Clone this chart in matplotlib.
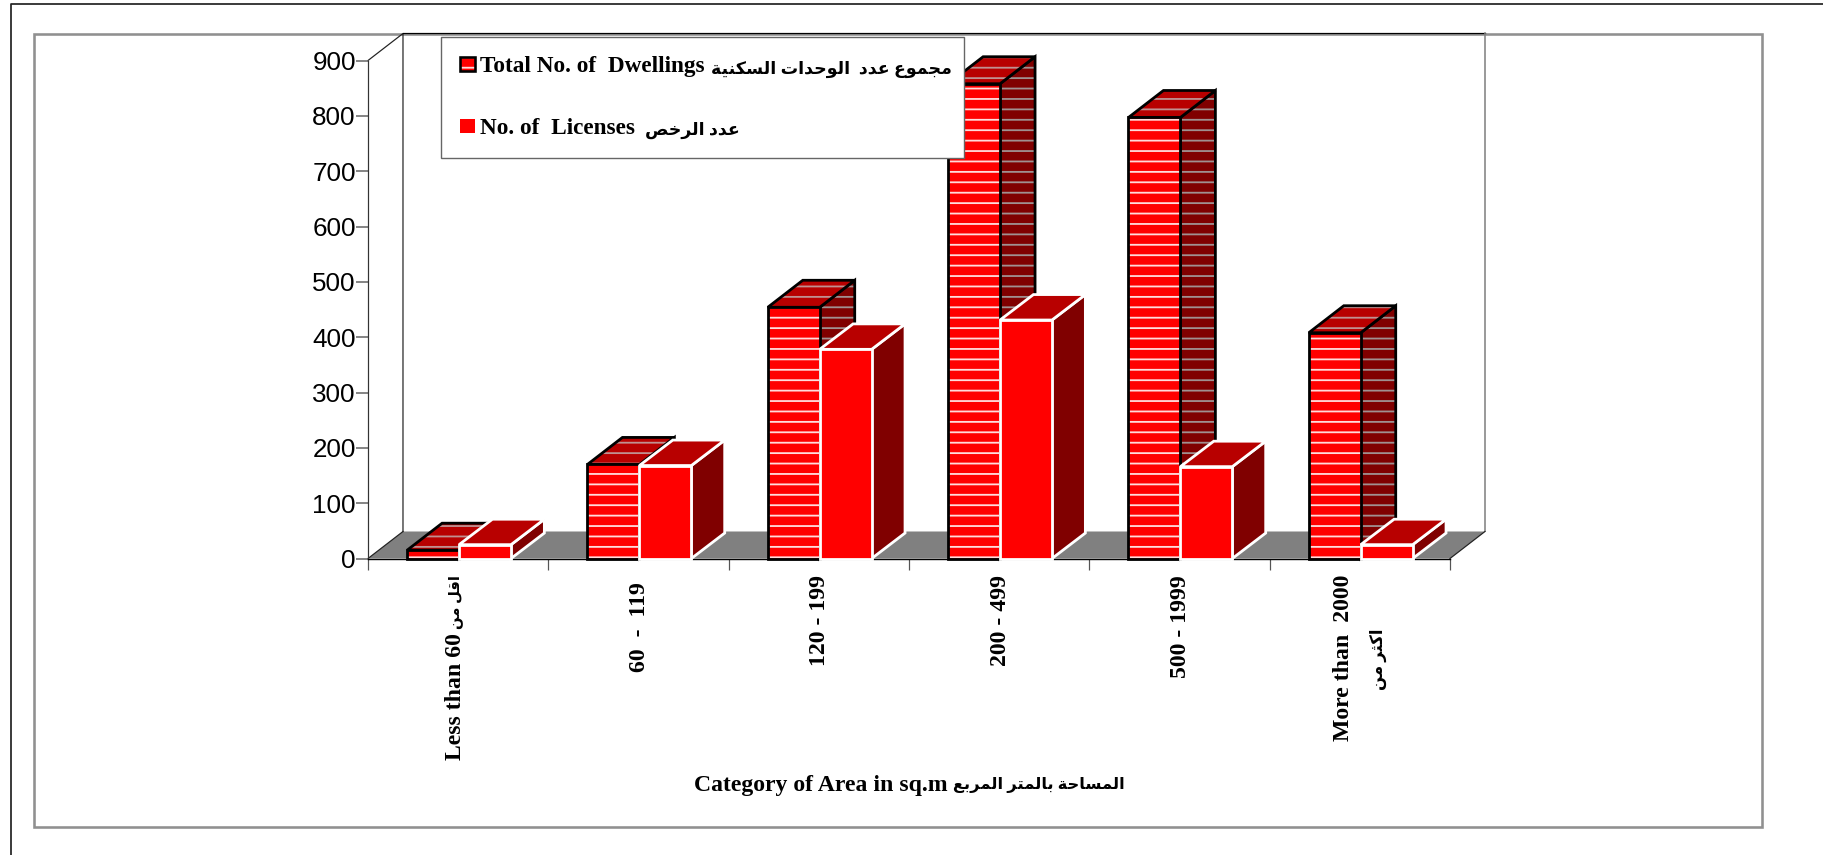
import matplotlib
matplotlib.use('Agg')
import matplotlib.pyplot as plt
from matplotlib.legend_handler import HandlerTuple
from matplotlib.patches import Patch, Polygon, Rectangle

W, H = 1823, 855
DPI = 125
plt.rcParams['hatch.linewidth'] = 1.05
SERIF = ['Liberation Serif', 'DejaVu Sans']
LATIN_SIZE = 13.7

total_dwellings = [15, 170, 454, 858, 797, 408]
licenses = [25, 168, 378, 431, 166, 25]
y_ticks = [0, 100, 200, 300, 400, 500, 600, 700, 800, 900]

# forms: isolated, final, initial, medial
AR_FORMS = {
    'ا': (0xFE8D, 0xFE8E), 'ب': (0xFE8F, 0xFE90, 0xFE91, 0xFE92), 'ة': (0xFE93, 0xFE94),
    'ت': (0xFE95, 0xFE96, 0xFE97, 0xFE98), 'ث': (0xFE99, 0xFE9A, 0xFE9B, 0xFE9C),
    'ج': (0xFE9D, 0xFE9E, 0xFE9F, 0xFEA0), 'ح': (0xFEA1, 0xFEA2, 0xFEA3, 0xFEA4),
    'خ': (0xFEA5, 0xFEA6, 0xFEA7, 0xFEA8), 'د': (0xFEA9, 0xFEAA), 'ر': (0xFEAD, 0xFEAE),
    'س': (0xFEB1, 0xFEB2, 0xFEB3, 0xFEB4), 'ص': (0xFEB9, 0xFEBA, 0xFEBB, 0xFEBC),
    'ع': (0xFEC9, 0xFECA, 0xFECB, 0xFECC), 'ق': (0xFED5, 0xFED6, 0xFED7, 0xFED8),
    'ك': (0xFED9, 0xFEDA, 0xFEDB, 0xFEDC), 'ل': (0xFEDD, 0xFEDE, 0xFEDF, 0xFEE0),
    'م': (0xFEE1, 0xFEE2, 0xFEE3, 0xFEE4), 'ن': (0xFEE5, 0xFEE6, 0xFEE7, 0xFEE8),
    'و': (0xFEED, 0xFEEE), 'ي': (0xFEF1, 0xFEF2, 0xFEF3, 0xFEF4),
}


def ar(text):
    # matplotlib does no arabic shaping, so pick the joined forms and reverse
    out = []
    for i, c in enumerate(text):
        if c not in AR_FORMS:
            out.append(c)
            continue
        forms = AR_FORMS[c]
        prev = text[i - 1] if i > 0 else ' '
        nxt = text[i + 1] if i + 1 < len(text) else ' '
        join_prev = prev in AR_FORMS and len(AR_FORMS[prev]) == 4
        join_next = nxt in AR_FORMS and len(forms) == 4
        if join_prev and join_next:
            k = 3
        elif join_prev:
            k = 1
        elif join_next:
            k = 2
        else:
            k = 0
        out.append(chr(forms[k]))
    return ''.join(reversed(out))


categories = ['Less than 60', '60  -  119', '120 - 199', '200 - 499', '500 - 1999', 'More than  2000']
legend_total = 'Total No. of  Dwellings'
legend_total_ar = 'مجموع عدد  الوحدات السكنية'
legend_lic = 'No. of  Licenses'
legend_lic_ar = 'عدد الرخص'
x_title = 'Category of Area in sq.m'
x_title_ar = 'المساحة بالمتر المربع'
less_ar = 'اقل من'
more_ar = 'اكثر من'

fig = plt.figure(figsize=(W / DPI, H / DPI), dpi=DPI, facecolor='white')

# page border and grey chart frame
fig.add_artist(plt.Line2D([10.5 / W, 10.5 / W, 1], [0, 1 - 4 / H, 1 - 4 / H], color='#222222', lw=1.0))
fig.add_artist(Rectangle((34 / W, 1 - 827 / H), (1762 - 34) / W, (827 - 34) / H, transform=fig.transFigure,
                         fill=False, edgecolor='#909090', lw=1.5, zorder=-1))

ax = fig.add_axes([368 / W, 1 - 558.5 / H, (1450 - 368) / W, (558.5 - 60.5) / H])
ax.set_xlim(0, 6)
ax.set_ylim(0, 900)
ax.patch.set_visible(False)
for side in ['top', 'right']:
    ax.spines[side].set_visible(False)
ax.spines['left'].set_color('#333333')
ax.spines['left'].set_linewidth(0.7)
ax.spines['bottom'].set_color('black')
ax.spines['bottom'].set_linewidth(0.8)

dx = 0.194
dy = 48.8

# floor and back walls
ax.add_patch(Polygon([(0, 0), (6, 0), (6 + dx, dy), (dx, dy)], facecolor='#808080', edgecolor='none',
                     clip_on=False, zorder=0.5))
ax.plot([0, dx, dx], [900, 900 + dy, dy], color='#222222', lw=0.7, clip_on=False, zorder=0.6)
ax.plot([0, dx], [0, dy], color='#222222', lw=0.7, clip_on=False, zorder=0.6)
ax.plot([dx, 6 + dx], [900 + dy, 900 + dy], color='black', lw=0.7, clip_on=False, zorder=0.6)
ax.plot([6 + dx, 6 + dx], [dy, 900 + dy], color='#808080', lw=0.9, clip_on=False, zorder=0.6)
ax.plot([6, 6 + dx], [0, dy], color='#222222', lw=0.7, clip_on=False, zorder=0.6)

bar_w = 0.288
centers = [i + 0.505 for i in range(6)]


def bars3d(xs, values, ddx, ddy, line, hatch, side_stripe, top_stripe):
    for x, v in zip(xs, values):
        side = [(x + bar_w, 0), (x + bar_w + ddx, ddy), (x + bar_w + ddx, v + ddy), (x + bar_w, v)]
        top = [(x, v), (x + bar_w, v), (x + bar_w + ddx, v + ddy), (x + ddx, v + ddy)]
        for pts, col, stripe in [(side, '#800000', side_stripe), (top, '#b80000', top_stripe)]:
            if hatch:
                ax.add_patch(Polygon(pts, facecolor=col, edgecolor=stripe, hatch=hatch, lw=0,
                                     clip_on=False, zorder=3))
            else:
                ax.add_patch(Polygon(pts, facecolor=col, edgecolor='none', clip_on=False, zorder=3))
            ax.add_patch(Polygon(pts, fill=False, edgecolor=line, lw=1.6, joinstyle='miter',
                                 clip_on=False, zorder=3))
    if hatch:
        ax.bar(xs, values, bar_w, align='edge', color='#ff0000', edgecolor='#ffdcdc', hatch=hatch, lw=0,
               clip_on=False, zorder=3)
    else:
        ax.bar(xs, values, bar_w, align='edge', color='#ff0000', lw=0, clip_on=False, zorder=3)
    ax.bar(xs, values, bar_w, align='edge', fill=False, edgecolor=line, lw=1.6, clip_on=False, zorder=3)


bars3d([c - bar_w for c in centers], total_dwellings, dx, dy, 'black', '--', '#a09090', '#c09090')
bars3d(centers, licenses, 0.185, 46, 'white', None, None, None)

# y ticks
ax.set_yticks(y_ticks)
ax.tick_params(axis='y', length=7, width=0.9, color='#666666', pad=0, labelsize=15)
for t in ax.get_yticklabels():
    t.set_family('Liberation Sans')

# x ticks on the category edges, labels in between
ax.set_xticks(range(7))
ax.set_xticklabels([])
ax.tick_params(axis='x', which='major', length=6.5, width=0.7, color='#555555')

# category labels start at different distances under the axis
label_offsets = [(-2, -43), (0, -13.5), (0, -9.5), (0, -9.5), (0, -9.5), (-9.8, -9.5)]
xaxis_trans = ax.get_xaxis_transform()
for c, lab, off in zip(centers, categories, label_offsets):
    ax.annotate(lab, xy=(c, 0), xycoords=xaxis_trans, xytext=off, textcoords='offset points', rotation=90,
                ha='center', va='top', family=SERIF, fontweight='bold', fontsize=LATIN_SIZE, annotation_clip=False)

# arabic part of the labels, smaller than the latin text
ax.annotate(ar(less_ar), xy=(centers[0], 0), xycoords=xaxis_trans, xytext=(-2, -9.5),
            textcoords='offset points', rotation=90, ha='center', va='top', family=SERIF,
            fontweight='bold', fontsize=8.5, annotation_clip=False)
ax.annotate(ar(more_ar), xy=(centers[5], 0), xycoords=xaxis_trans, xytext=(10, -40.6),
            textcoords='offset points', rotation=90, ha='center', va='top', family=SERIF,
            fontweight='bold', fontsize=9.5, annotation_clip=False)

fig.text(948 / W, 1 - 785 / H, x_title, ha='right', va='center', family=SERIF, fontweight='bold', fontsize=LATIN_SIZE)
fig.text(1125 / W, 1 - 785 / H, ar(x_title_ar), ha='right', va='center', family=SERIF, fontweight='bold', fontsize=9.4)

h_total = (Patch(facecolor='#ff0000', edgecolor='#ffdcdc', hatch='--', lw=0),
           Patch(fill=False, edgecolor='black', lw=1.5))
h_lic = Patch(facecolor='#ff0000', edgecolor='none')
leg = ax.legend([h_total, h_lic], [legend_total, legend_lic], handler_map={tuple: HandlerTuple(ndivide=1, pad=0)},
                loc='upper left', bbox_to_anchor=(441 / W, 1 - 159 / H, (964 - 441) / W, (159 - 37) / H),
                bbox_transform=fig.transFigure, mode='expand', borderaxespad=0, fancybox=False, framealpha=1,
                edgecolor='#666666', handlelength=0.62, handleheight=0.55, handletextpad=0.24, labelspacing=1.76,
                borderpad=0.82, prop={'family': SERIF, 'weight': 'bold', 'size': 13.4})
leg.set_zorder(20)
leg.get_frame().set_linewidth(0.8)
fig.text(952 / W, 1 - 69 / H, ar(legend_total_ar), ha='right', va='center', family=SERIF, fontweight='bold',
         fontsize=10, zorder=30)
fig.text(740 / W, 1 - 130 / H, ar(legend_lic_ar), ha='right', va='center', family=SERIF, fontweight='bold',
         fontsize=10, zorder=30)

fig.savefig('out.png', dpi=DPI, facecolor='white')
